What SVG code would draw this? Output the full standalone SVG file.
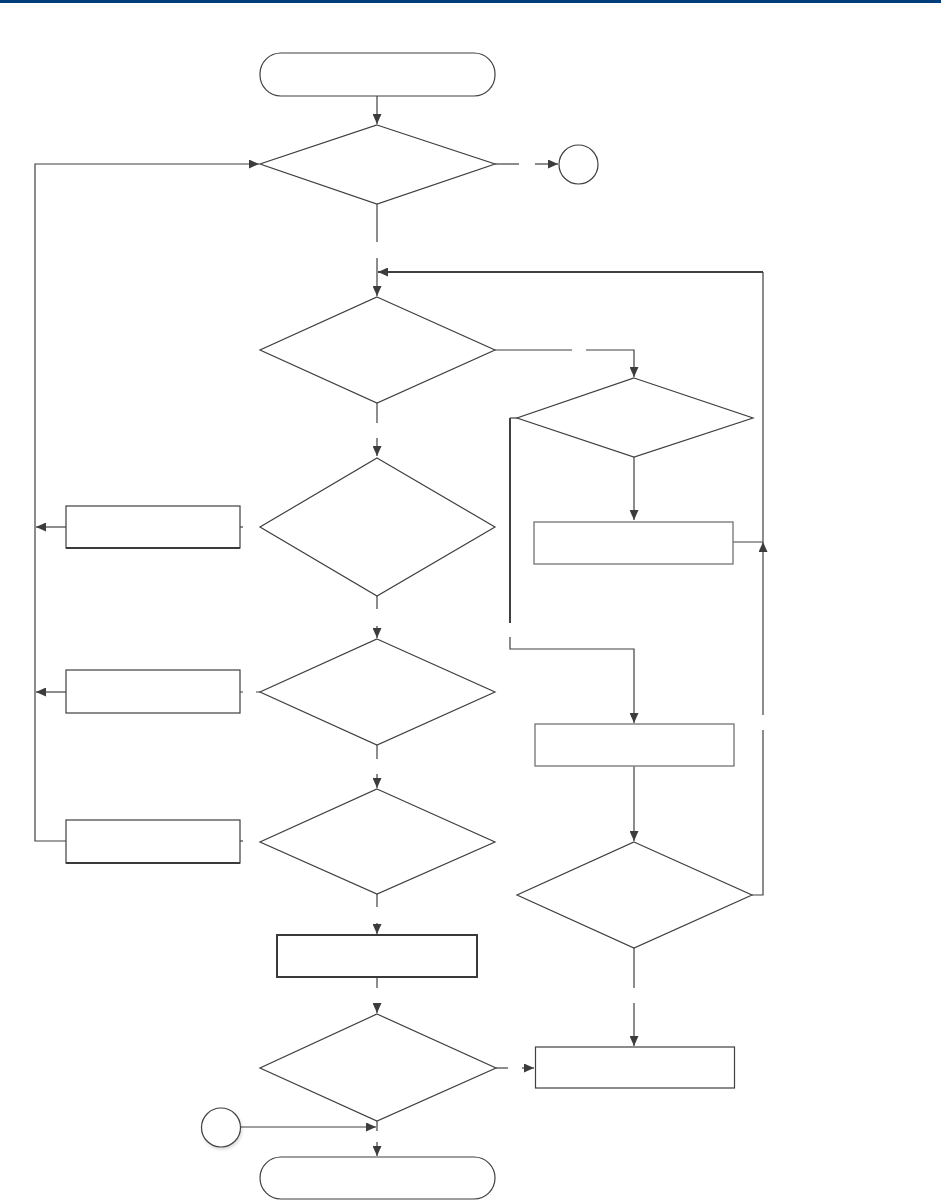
<svg xmlns="http://www.w3.org/2000/svg" width="941" height="1201" viewBox="0 0 941 1201">
<style>
.n{fill:#fff;stroke:#3f3f3f;stroke-width:1.2}
.g{fill:#fff;stroke:#7c7c7c;stroke-width:1.4}
.k{fill:#fff;stroke:#3a3a3a;stroke-width:2}
.c{fill:none;stroke:#404040;stroke-width:1.2}
.t{fill:none;stroke:#404040;stroke-width:2}
</style>
<defs>
<marker id="ar" markerWidth="10" markerHeight="9" refX="10" refY="4.5" orient="auto" markerUnits="userSpaceOnUse">
<path d="M0,0 L10,4.5 L0,9 z" fill="#3c3c3c"/>
</marker>
<filter id="sh" x="-30%" y="-30%" width="160%" height="160%">
<feDropShadow dx="1" dy="2" stdDeviation="1.5" flood-color="#000" flood-opacity="0.15"/>
</filter>
</defs>
<rect x="0" y="0" width="941" height="3" fill="#003d7a"/>

<g id="connectors">
<path class="c" d="M377,96 V124" marker-end="url(#ar)"/>
<path class="c" d="M495,164 H519"/>
<path class="c" d="M535,164 H558" marker-end="url(#ar)"/>
<path class="c" d="M377,204 V242"/>
<path class="c" d="M377,258 V296" marker-end="url(#ar)"/>
<path class="c" d="M733,542 H763 V272"/>
<path class="t" d="M763,272 H378" marker-end="url(#ar)"/>
<path class="c" d="M752,895 H763 V730"/>
<path class="c" d="M763,715 V542" marker-end="url(#ar)"/>
<path class="c" d="M495,350 H572"/>
<path class="c" d="M586,350 H634 V377" marker-end="url(#ar)"/>
<path class="c" d="M634,457 V520" marker-end="url(#ar)"/>
<path class="c" d="M517,418 H510"/>
<path class="t" d="M510,418 V623"/>
<path class="c" d="M510,637 V649 H634 V723" marker-end="url(#ar)"/>
<path class="c" d="M634,766 V841" marker-end="url(#ar)"/>
<path class="c" d="M634,948 V988"/>
<path class="c" d="M634,1003 V1046" marker-end="url(#ar)"/>
<path class="c" d="M377,403 V423"/>
<path class="c" d="M377,438 V456" marker-end="url(#ar)"/>
<path class="c" d="M377,596 V609"/>
<path class="c" d="M377,626 V638" marker-end="url(#ar)"/>
<path class="c" d="M377,745 V759"/>
<path class="c" d="M377,774 V788" marker-end="url(#ar)"/>
<path class="c" d="M377,894 V907"/>
<path class="c" d="M377,923 V934" marker-end="url(#ar)"/>
<path class="c" d="M377,977 V988"/>
<path class="c" d="M377,1003 V1013" marker-end="url(#ar)"/>
<path class="c" d="M496,1068 H508"/>
<path class="c" d="M522,1068 H534" marker-end="url(#ar)"/>
<path class="c" d="M377,1121 V1131"/>
<path class="c" d="M377,1142 V1156" marker-end="url(#ar)"/>
<path class="c" d="M240,1127 H376" marker-end="url(#ar)"/>
<path class="c" d="M240,527 H243"/>
<path class="c" d="M240,692 H243 M256,692 H260"/>
<path class="c" d="M240,841 H243"/>
<path class="c" d="M66,527 H36" marker-end="url(#ar)"/>
<path class="c" d="M66,692 H36" marker-end="url(#ar)"/>
<path class="c" d="M66,841 H35 V164 H259" marker-end="url(#ar)"/>
</g>

<g id="start"><rect class="n" x="260" y="53" width="235" height="43" rx="21" ry="21"/></g>
<g id="d1"><polygon class="n" points="377,125 495,164 377,204 260,164"/></g>
<g id="connector-top"><ellipse class="n" cx="578.5" cy="164.5" rx="19.5" ry="19.5"/></g>
<g id="d2"><polygon class="n" points="377,297 495,350 377,403 260,350"/></g>
<g id="d3"><polygon class="n" points="377,458 495,527 377,596 260,527"/></g>
<g id="d5"><polygon class="n" points="377,639 495,692 377,745 260,692"/></g>
<g id="d7"><polygon class="n" points="377,789 495,842 377,894 260,842"/></g>
<g id="rmid"><rect class="k" x="277" y="935" width="200" height="42"/></g>
<g id="d8"><polygon class="n" points="377,1014 496,1068 377,1121 260,1068"/></g>
<g id="end"><rect class="n" x="260" y="1157" width="235" height="42" rx="21" ry="21"/></g>
<g id="l1"><rect class="n" x="66" y="506" width="174" height="42"/><path d="M66,548 H240" stroke="#3a3a3a" stroke-width="2"/></g>
<g id="l2"><rect class="n" x="66" y="670" width="174" height="43"/></g>
<g id="l3"><rect class="n" x="66" y="820" width="174" height="43"/><path d="M66,863 H240" stroke="#3a3a3a" stroke-width="2"/></g>
<g id="d4"><polygon class="n" points="634,378 753,418 634,457 517,418"/></g>
<g id="r1"><rect class="g" x="534" y="522" width="199" height="42"/></g>
<g id="r2"><rect class="g" x="535" y="724" width="199" height="42"/></g>
<g id="d6"><polygon class="n" points="634,842 752,895 634,948 517,895"/></g>
<g id="r3"><rect class="n" x="535.5" y="1047" width="199" height="41"/></g>
<g id="connector-a"><ellipse class="n" cx="221" cy="1127.5" rx="19.5" ry="19.5" filter="url(#sh)"/></g>
</svg>
